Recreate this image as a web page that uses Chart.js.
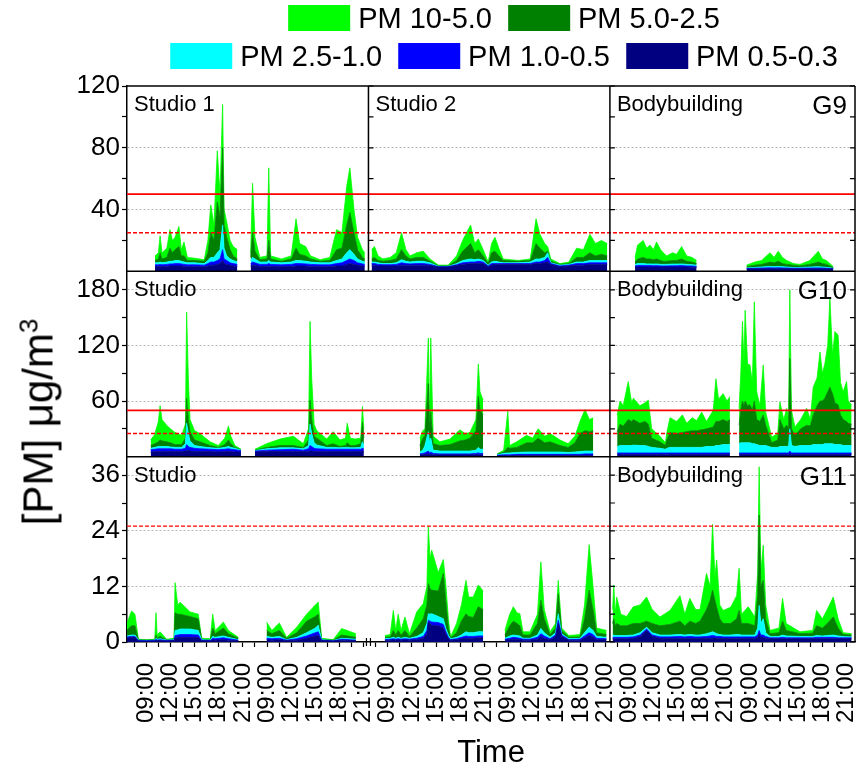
<!DOCTYPE html>
<html>
<head>
<meta charset="utf-8">
<title>PM size fractions, gyms G9-G11</title>
<script src="https://cdn.jsdelivr.net/npm/chart.js@4.4.1/dist/chart.umd.min.js"></script>
<style>
  html, body { margin: 0; padding: 0; background: #fff; }
  #wrap { position: relative; width: 859px; height: 772px; font-family: 'Liberation Sans', Arial, sans-serif; color: #000; }
  #pmChart { position: absolute; left: 0; top: 0; }
  .legend-row { position: absolute; left: 504px; transform: translateX(-50%); display: flex; gap: 16px; white-space: nowrap; }
  .legend-item { display: flex; align-items: center; gap: 8px; font-size: 29px; line-height: 26px; }
  .legend-item i { display: inline-block; width: 62px; height: 26px; }
  #yTitle { position: absolute; left: 38px; top: 422px; transform: translate(-50%, -50%) rotate(-90deg); font-size: 42px; white-space: nowrap; }
  #yTitle sup { font-size: 26px; }
</style>
</head>
<body>
<div id="wrap">
  <canvas id="pmChart" width="859" height="772"></canvas>
  <div class="legend-row" id="legendTop" style="top:5px"></div>
  <div class="legend-row" id="legendBottom" style="top:43px"></div>
  <div id="yTitle">[PM] μg/m<sup>3</sup></div>
</div>
<script>
const fontFamily = "'Liberation Sans', Arial, sans-serif";

const timeTicks = ['09:00', '12:00', '15:00', '18:00', '21:00'];
const sizeBands = ['PM 0.5-0.3', 'PM 1.0-0.5', 'PM 2.5-1.0', 'PM 5.0-2.5', 'PM 10-5.0'];
const bandColors = ['#000080', '#0000ff', '#00ffff', '#008000', '#00ff00'];
const pm10Limit = 50;
const pm25Limit = 25;

const row1Ticks = [40, 80, 120];
const row1Minor = [20, 60, 100];
const row2Ticks = [60, 120, 180];
const row2Minor = [30, 90, 150];
const row3Ticks = [0, 12, 24, 36];
const row3Minor = [6, 18, 30];

const panelLabels = [
  { row: 'y1', col: 0, text: 'Studio 1' },
  { row: 'y1', col: 1, text: 'Studio 2' },
  { row: 'y1', col: 2, text: 'Bodybuilding', gym: 'G9' },
  { row: 'y2', col: 0, text: 'Studio' },
  { row: 'y2', col: 2, text: 'Bodybuilding', gym: 'G10' },
  { row: 'y3', col: 0, text: 'Studio' },
  { row: 'y3', col: 2, text: 'Bodybuilding', gym: 'G11' },
];

// time: 3-hour steps from 09:00 of the first day in the column (4 = 21:00, 5 = 09:00 next day)
// values: cumulative concentration from 0.3 um up to 0.5 / 1.0 / 2.5 / 5.0 / 10 um; null = no data

// G9 - Studio 1
const g9Studio1Time = [0.36, 0.5, 0.57, 0.65, 0.85, 0.98, 1.08, 1.19, 1.35, 1.45, 1.56, 1.7, 2.0, 2.4, 2.55, 2.67, 2.8, 2.94, 3.05, 3.16, 3.22, 3.33, 3.47, 3.6, 3.77, 3.9, 4.32, 4.4, 4.5, 4.7, 5.0, 5.07, 5.15, 5.6, 6.0, 6.2, 6.35, 6.6, 6.8, 7.2, 7.6, 7.88, 8.1, 8.3, 8.43, 8.6, 8.75, 8.95, 9.05];
const g9Studio1Pm10 = [10, 12, 23, 12, 15, 27, 20, 22, 29, 14, 19, 9, 8.5, 7.5, 20, 43, 30, 78, 50, 108, 40, 32, 20, 16, 14, null, 12, 57, 22, 9, 10, 67, 10, 8, 10, 34, 18, 16, 10, 7.5, 9, 27, 25, 55, 67, 40, 22, 14, 12];
const g9Studio1Pm5 = [7, 8, 12, 8, 9, 15, 12, 14, 16, 10, 10, 7, 7, 6.5, 12, 25, 20, 45, 35, 80, 30, 22, 14, 10, 8, null, 9, 25, 13, 7.5, 8, 20, 8, 6.5, 8, 15, 11, 10, 8, 6.5, 7, 14, 15, 30, 38, 25, 14, 9, 8];
const g9Studio1Pm25 = [5.5, 5.5, 6, 5.5, 6, 6.5, 6.5, 7, 7, 6.5, 6, 5.5, 5.5, 5, 7, 9, 9, 12, 14, 30, 15, 10, 8, 7, 6, null, 7, 9, 8, 6, 6, 7, 6, 5.5, 6, 7, 7, 6.5, 6, 5.5, 5.5, 7, 8, 12, 14, 11, 8, 6.5, 6];
const g9Studio1Pm1 = [4.2, 4.2, 4.5, 4.2, 4.5, 4.8, 4.8, 5, 5, 4.8, 4.5, 4.2, 4.2, 4, 5, 6, 6, 7, 8, 14, 8, 7, 5.5, 5, 4.5, null, 5, 6, 5.5, 4.5, 4.5, 5, 4.5, 4.2, 4.5, 5, 5, 4.8, 4.5, 4.2, 4.2, 5, 5.5, 7, 8, 7, 5.5, 4.8, 4.5];
const g9Studio1Pm05 = [3, 3, 3.2, 3, 3.2, 3.5, 3.5, 3.5, 3.5, 3.5, 3.2, 3, 3, 3, 3.5, 4, 4, 4.5, 5, 7, 5, 4.5, 4, 3.5, 3.2, null, 3.5, 4, 4, 3.2, 3.2, 3.5, 3.2, 3, 3.2, 3.5, 3.5, 3.5, 3.2, 3, 3, 3.5, 3.5, 4.5, 5, 4.5, 4, 3.5, 3.2];

// G9 - Studio 2
const g9Studio2Time = [-0.67, -0.55, -0.4, -0.2, 0.1, 0.35, 0.57, 0.75, 0.92, 1.2, 1.47, 1.75, 2.1, 2.5, 2.85, 3.1, 3.43, 3.6, 3.75, 3.95, 4.16, 4.3, 4.44, 4.6, 4.78, 5.4, 5.9, 6.14, 6.3, 6.5, 6.62, 6.75, 7.13, 7.5, 7.82, 8.1, 8.37, 8.6, 8.85, 9.09];
const g9Studio2Pm10 = [14, 16, 10, 8, 9, 12, 25, 14, 10, 12, 13, 8, 4, 4, 10, 20, 30, 18, 21, 14, 6, 18, 22, 15, 8, 7, 8, 34, 24, 18, 16, 8, 5, 6, 15, 14, 24, 18, 20, 18];
const g9Studio2Pm5 = [8, 9, 7, 6.5, 7, 8, 14, 10, 8, 9, 9, 6.5, 3.5, 3.5, 7, 13, 18, 12, 14, 10, 5, 12, 13, 10, 7, 6.5, 7, 18, 15, 12, 13, 6.5, 4.5, 5, 9, 9, 12, 10, 11, 10];
const g9Studio2Pm25 = [6, 6, 5.5, 5, 5, 5.5, 7.5, 6.5, 6, 6.5, 6.5, 5.5, 3.2, 3.2, 5, 7, 8, 7.5, 8, 7, 4, 6, 6.5, 6, 5.5, 5.5, 6, 8, 8, 9, 12, 5.5, 4, 4.5, 6, 6, 7, 7, 7, 7];
const g9Studio2Pm1 = [5, 5, 4.5, 4.3, 4.3, 4.5, 5.5, 5, 4.8, 5, 5, 4.5, 3, 3, 4.3, 5.5, 6, 6, 6.5, 6, 3.5, 5, 5, 5, 5, 5, 5, 6, 6, 7, 9, 5, 3.5, 4, 5, 5, 5.5, 5.5, 5.5, 5.5];
const g9Studio2Pm05 = [4, 4, 3.5, 3.5, 3.5, 3.5, 4, 4, 4, 4, 4, 3.8, 2.8, 2.8, 3.8, 4.5, 5, 5, 5, 5, 3, 4, 4.5, 4.5, 4.5, 4.5, 4.5, 5, 5, 5.5, 6, 4.5, 3, 3.5, 4, 4, 4.5, 4.5, 4.5, 4.5];

// G9 - Bodybuilding
const g9BodyTime = [0.24, 0.35, 0.58, 0.72, 0.86, 1.0, 1.13, 1.3, 1.41, 1.55, 1.8, 1.96, 2.17, 2.38, 2.6, 2.79, 3.8, 4.86, 5.2, 5.48, 5.83, 6.0, 6.17, 6.35, 6.52, 6.8, 7.07, 7.48, 7.83, 8.0, 8.17, 8.45];
const g9BodyPm10 = [9, 17, 20, 15, 17, 14, 19, 14, 12, 10, 12, 11, 16, 10, 9, 7, null, 4, 6, 7, 12, 9, 13, 9, 7, 5, 4.5, 7, 13, 8, 7, 3];
const g9BodyPm5 = [6, 8, 9, 8, 8, 7.5, 8, 7, 6.5, 6.5, 7, 7, 8, 6.5, 6, 5, null, 3, 4, 4.5, 6, 5.5, 6.5, 5, 4.5, 4, 3.5, 4.5, 6, 5, 4.5, 2.5];
const g9BodyPm25 = [4.5, 5, 5, 4.8, 4.8, 4.7, 4.8, 4.5, 4.5, 4.5, 4.7, 4.7, 4.8, 4.5, 4.3, 4, null, 2.2, 2.5, 2.8, 3.2, 3, 3.2, 3, 2.8, 2.5, 2.5, 2.8, 3, 2.8, 2.6, 2];
const g9BodyPm1 = [3.5, 3.8, 3.8, 3.7, 3.7, 3.6, 3.7, 3.5, 3.5, 3.5, 3.6, 3.6, 3.7, 3.5, 3.4, 3.2, null, 1.8, 2, 2.1, 2.3, 2.2, 2.3, 2.2, 2.1, 2, 2, 2.1, 2.2, 2.1, 2, 1.7];
const g9BodyPm05 = [2.8, 2.8, 2.8, 2.8, 2.8, 2.8, 2.8, 2.8, 2.8, 2.8, 2.8, 2.8, 2.8, 2.8, 2.7, 2.6, null, 1.5, 1.6, 1.6, 1.7, 1.7, 1.7, 1.7, 1.6, 1.6, 1.6, 1.6, 1.7, 1.6, 1.6, 1.5];

// G10 - Studio (spans the first two columns)
const g10StudioTime = [0.18, 0.35, 0.5, 0.57, 0.65, 0.84, 1.0, 1.19, 1.46, 1.62, 1.67, 1.74, 1.81, 2.0, 2.22, 2.64, 2.98, 3.25, 3.4, 3.5, 3.67, 3.92, 4.2,
  4.5, 4.98, 5.54, 6.09, 6.5, 6.72, 6.78, 6.85, 6.95, 7.06, 7.47, 7.74, 8.02, 8.25, 8.32, 8.45, 8.64, 8.88, 8.95, 9.01, 10.0,
  11.33, 11.45, 11.54, 11.68, 11.73, 11.78, 11.88, 12.16, 12.58, 12.99, 13.2, 13.4, 13.65, 13.75, 13.82, 13.95, 14.2,
  14.53, 14.8, 14.97, 15.05, 15.34, 15.75, 16.0, 16.23, 16.5, 16.72, 17.13, 17.47, 17.75, 17.96, 18.17, 18.35, 18.51];
const g10StudioPm10 = [18, 24, 38, 55, 40, 34, 30, 26, 23, 35, 156, 84, 40, 28, 25, 16, 12, 20, 33, 22, 12, 8, null,
  8, 14, 19, 22, 14, 30, 146, 84, 35, 28, 19, 27, 18, 20, 36, 20, 19, 20, 54, 30, null,
  20, 28, 30, 128, 40, 128, 22, 16, 19, 29, 25, 26, 40, 100, 70, 61, null,
  3, 7, 49, 12, 16, 23, 20, 30, 22, 25, 18, 14, 22, 38, 51, 40, 42];
const g10StudioPm5 = [12, 14, 16, 18, 17, 16, 15, 13, 13, 20, 63, 40, 27, 18, 16, 12, 10, 13, 18, 14, 10, 7.5, null,
  7, 10, 12, 12, 10, 18, 61, 40, 22, 20, 12, 14, 11, 12, 15, 12, 12, 14, 37, 20, null,
  12, 20, 23, 79, 30, 48, 14, 12, 13, 17, 18, 20, 28, 65, 50, 45, null,
  2.5, 5, 10, 9, 10, 15, 15, 20, 15, 16, 12, 10, 15, 25, 28, 27, 28];
const g10StudioPm25 = [9, 10, 11, 11, 11, 11, 10.5, 10, 10, 14, 36, 25, 17, 12, 11, 9.5, 9, 10, 11, 10, 9, 7, null,
  6.5, 8.5, 9.5, 9.5, 8.5, 12, 35, 25, 15, 12.5, 10, 10, 9.5, 10, 10, 9.5, 9.5, 10, 16, 12, null,
  5, 7, 12, 27, 15, 20, 7, 6, 6, 6, 6, 6, 7, 10, 8, 8, null,
  2, 3.5, 4, 4, 4.5, 5, 5, 5, 5, 5, 5, 4.5, 5, 5.5, 6, 6, 6];
const g10StudioPm1 = [7.5, 8, 8.5, 8.5, 8.5, 8.5, 8.5, 8, 8, 9, 13, 11, 10, 9, 8.5, 8, 7.5, 8, 8.5, 8, 7.5, 6.5, null,
  6, 7, 7.5, 8, 7, 8.5, 12, 11, 9, 8.5, 8, 8, 8, 8, 8, 8, 8, 8, 9, 8.5, null,
  3, 3.5, 4, 6, 4, 5, 3.5, 3, 3, 3, 3, 3, 3.5, 4, 3.5, 3.5, null,
  1.5, 2, 2, 2, 2.5, 2.5, 2.5, 2.5, 2.5, 2.5, 2.5, 2.5, 2.5, 2.5, 3, 3, 3];
const g10StudioPm05 = [5, 5.5, 5.5, 5.5, 5.5, 5.5, 5.5, 5.5, 5.5, 6, 7, 6.5, 6, 5.5, 5.5, 5.5, 5, 5.5, 5.5, 5.5, 5, 5, null,
  5, 5.5, 5.5, 5.5, 5.5, 5.5, 6.5, 6, 5.5, 5.5, 5.5, 5.5, 5.5, 5.5, 5.5, 5.5, 5.5, 5.5, 6, 5.5, null,
  2, 2, 2.5, 3, 2.5, 2.5, 2, 2, 2, 2, 2, 2, 2, 2, 2, 2, null,
  1, 1, 1, 1, 1.5, 1.5, 1.5, 1.5, 1.5, 1.5, 1.5, 1.5, 1.5, 1.5, 1.5, 1.5, 1.5];

// G10 - Bodybuilding
const g10BodyTime = [-0.5, -0.38, -0.25, -0.04, 0.1, 0.17, 0.44, 0.65, 0.79, 0.93, 1.27, 1.5, 1.55, 1.69, 1.96, 2.2, 2.38, 2.6, 2.79, 3.0, 3.2, 3.48, 3.59, 3.7, 3.89, 4.05, 4.17, 4.35,
  4.55, 4.62, 4.69, 4.75, 4.8, 4.9, 5.0, 5.1, 5.18, 5.28, 5.41, 5.55, 5.65, 5.9, 6.15, 6.24, 6.4, 6.52, 6.6, 6.65, 6.72, 6.86, 7.1, 7.35, 7.5, 7.62, 7.78, 7.9, 8.0, 8.1, 8.22, 8.31, 8.42, 8.52, 8.65, 8.75, 8.86, 9.0, 9.07, 9.21];
const g10BodyPm10 = [45, 60, 55, 81, 58, 63, 55, 58, 61, 30, 22, 15, 25, 42, 38, 45, 36, 42, 39, 48, 38, 50, 84, 62, 68, 60, 65, null,
  52, 90, 146, 100, 158, 100, 99, 80, 167, 70, 55, 99, 48, 21, 25, 59, 40, 52, 40, 180, 50, 32, 40, 52, 40, 75, 85, 113, 90, 100, 120, 171, 110, 135, 131, 80, 70, 81, 60, 56];
const g10BodyPm5 = [27, 35, 33, 40, 38, 40, 36, 38, 35, 20, 16, 12, 18, 26, 25, 26, 27, 28, 28, 29, 30, 32, 38, 38, 40, 38, 40, null,
  34, 50, 60, 55, 60, 55, 56, 50, 60, 40, 38, 45, 34, 15, 18, 40, 30, 34, 30, 106, 30, 23, 30, 34, 33, 45, 55, 60, 60, 63, 70, 75, 68, 58, 56, 45, 40, 38, 36, 35];
const g10BodyPm25 = [11, 12, 12, 12, 12, 12.5, 12, 12, 11, 10, 9, 8, 9, 10, 10, 10, 10, 10, 10, 10, 11, 11, 12, 12, 13, 13, 13, null,
  14, 15, 15, 15, 15, 15, 15, 14, 14, 13, 12, 12, 12, 10, 10, 11, 11, 11, 11, 30, 12, 11, 12, 12, 12, 13, 13, 13, 13, 14, 14, 14, 14, 13, 13, 13, 12, 12, 12, 12];
const g10BodyPm1 = [4, 4, 4, 4, 4, 4, 4, 4, 4, 4, 4, 4, 4, 4, 4, 4, 4, 4, 4, 4, 4, 4, 4, 4, 4, 4, 4, null,
  4, 4, 4, 4, 4, 4, 4, 4, 4, 4, 4, 4, 4, 4, 4, 4, 4, 4, 4, 6, 4, 4, 4, 4, 4, 4, 4, 4, 4, 4, 4, 4, 4, 4, 4, 4, 4, 4, 4, 4];
const g10BodyPm05 = [2.5, 2.5, 2.5, 2.5, 2.5, 2.5, 2.5, 2.5, 2.5, 2.5, 2.5, 2.5, 2.5, 2.5, 2.5, 2.5, 2.5, 2.5, 2.5, 2.5, 2.5, 2.5, 2.5, 2.5, 2.5, 2.5, 2.5, null,
  2.5, 2.5, 2.5, 2.5, 2.5, 2.5, 2.5, 2.5, 2.5, 2.5, 2.5, 2.5, 2.5, 2.5, 2.5, 2.5, 2.5, 2.5, 2.5, 3, 2.5, 2.5, 2.5, 2.5, 2.5, 2.5, 2.5, 2.5, 2.5, 2.5, 2.5, 2.5, 2.5, 2.5, 2.5, 2.5, 2.5, 2.5, 2.5, 2.5];

// G11 - Studio (spans the first two columns)
const g11StudioTime = [-0.81, -0.61, -0.47, -0.33, 0.02, 0.35, 0.4, 0.45, 0.57, 0.84, 1.15, 1.19, 1.3, 1.4, 1.81, 2.15, 2.29, 2.65, 2.75, 2.85, 3.05, 3.19, 3.4, 3.81, 4.4,
  4.98, 5.2, 5.51, 5.81, 6.23, 6.64, 7.0, 7.12, 7.26, 7.74, 8.09, 8.68, 9.3,
  9.88, 10.1, 10.23, 10.33, 10.43, 10.55, 10.71, 10.9, 11.2, 11.47, 11.62, 11.68, 11.75, 11.82, 12.09, 12.3, 12.4, 12.51, 12.6, 12.85, 13.05, 13.24, 13.35, 13.54, 13.75, 13.95, 14.4,
  14.85, 15.05, 15.2, 15.35, 15.47, 15.6, 15.89, 16.2, 16.34, 16.48, 16.72, 16.95, 17.06, 17.2, 17.5, 17.96, 18.15, 18.34, 18.5, 18.65, 19.06];
const g11StudioPm10 = [4, 6.7, 6, 0.6, 0.5, 0.6, 6.3, 1.5, 2.2, 0.6, 0.8, 12.8, 8, 8.6, 6.5, 6, 0.8, 0.7, 6, 2.5, 3.5, 4.3, 2.5, 1, null,
  4.3, 2.5, 4.1, 1, 3.2, 6, 8, 8.6, 0.8, 0.5, 2.9, 1.8, null,
  1.4, 1.6, 6.8, 2.5, 6, 2.5, 5.4, 1.8, 6.5, 8.3, 12, 24.9, 18, 19.8, 15, 17.8, 12.6, 5, 1.1, 4, 8, 13.3, 9.7, 9.7, 12.3, 11, null,
  2.5, 6, 7.6, 6.3, 6.1, 2.2, 2.2, 6, 17.3, 7, 2.2, 4, 13.3, 3, 1.4, 1.6, 8, 21, 12, 3, 2.5];
const g11StudioPm5 = [2.5, 3.5, 3.5, 0.5, 0.4, 0.5, 1.5, 0.8, 1.2, 0.5, 0.6, 6.3, 6, 6, 5.5, 5, 0.6, 0.5, 3, 1.8, 2.5, 3, 1.8, 0.8, null,
  2.5, 1.8, 2.5, 0.8, 2, 4.5, 5.5, 6, 0.6, 0.4, 1.5, 1, null,
  1, 1.1, 2.5, 1.5, 2.5, 1.5, 2.5, 1.2, 3, 5, 8, 12.6, 11.5, 11.2, 11, 14.8, 9, 3, 0.9, 2, 4.5, 6.1, 5.5, 5.3, 7.6, 7, null,
  1.5, 3.5, 4.5, 4, 3.5, 1.5, 1.5, 4, 9, 5, 1.6, 3, 10.4, 2.5, 1, 1.1, 5, 11.2, 7, 2, 1.6];
const g11StudioPm25 = [1.3, 1.5, 1.5, 0.4, 0.3, 0.4, 0.8, 0.6, 0.7, 0.4, 0.5, 2.5, 2.6, 2.8, 2.8, 2.5, 0.5, 0.4, 1.2, 1, 1.2, 1.3, 1, 0.5, null,
  1.2, 1, 1.2, 0.5, 1, 2, 3, 3.6, 0.5, 0.3, 0.8, 0.6, null,
  0.7, 0.8, 1, 0.8, 1, 0.8, 1, 0.8, 1.2, 2, 4, 6.1, 6, 6.1, 5.5, 5, 3, 1.5, 0.7, 1, 1.5, 2.2, 2, 2, 2.2, 2.2, null,
  0.8, 1.3, 1.5, 1.4, 1.3, 0.8, 0.8, 1.5, 2.9, 2, 1, 2, 6.1, 1.8, 0.7, 0.8, 2, 3.2, 2.5, 1.2, 1];
const g11StudioPm1 = [1.1, 1.2, 1.2, 0.3, 0.25, 0.3, 0.6, 0.4, 0.5, 0.3, 0.4, 1.4, 1.5, 1.6, 1.6, 1.5, 0.4, 0.3, 0.8, 0.7, 0.8, 0.9, 0.7, 0.4, null,
  0.8, 0.7, 0.8, 0.4, 0.7, 1.3, 2, 2.2, 0.4, 0.25, 0.6, 0.4, null,
  0.5, 0.6, 0.7, 0.6, 0.7, 0.6, 0.7, 0.6, 0.8, 1.2, 2.5, 4.7, 4.5, 4.3, 4.2, 3.8, 2.3, 1, 0.5, 0.7, 1, 1.3, 1.2, 1.2, 1.3, 1.3, null,
  0.6, 0.8, 1, 0.9, 0.8, 0.6, 0.6, 1, 1.8, 1.3, 0.7, 1.5, 4.7, 1.5, 0.5, 0.6, 1.3, 2, 1.6, 0.8, 0.7];
const g11StudioPm05 = [0.9, 1, 1, 0.2, 0.2, 0.2, 0.4, 0.3, 0.3, 0.2, 0.3, 0.9, 1, 1, 1, 1, 0.3, 0.2, 0.5, 0.4, 0.5, 0.5, 0.4, 0.3, null,
  0.5, 0.4, 0.5, 0.3, 0.4, 0.8, 1.3, 1.4, 0.3, 0.2, 0.4, 0.3, null,
  0.4, 0.4, 0.5, 0.4, 0.5, 0.4, 0.5, 0.4, 0.5, 0.8, 1.8, 4.3, 4, 3.6, 3.5, 3, 1.8, 0.8, 0.4, 0.5, 0.7, 0.8, 0.8, 0.8, 0.9, 0.9, null,
  0.4, 0.5, 0.6, 0.6, 0.5, 0.4, 0.4, 0.6, 1.2, 0.8, 0.5, 1.2, 4, 1.2, 0.4, 0.4, 0.9, 1.4, 1.1, 0.5, 0.5];

// G11 - Bodybuilding
const g11BodyTime = [-0.69, -0.64, -0.58, -0.52, -0.35, -0.11, 0.17, 0.45, 0.72, 0.95, 1.27, 1.69, 2.1, 2.3, 2.51, 2.75, 2.93, 3.2, 3.35, 3.45, 3.55, 3.62, 3.75, 3.89, 4.2, 4.45, 4.55, 4.65, 4.93, 5.2, 5.32, 5.38, 5.45, 5.55, 5.65, 5.83, 6.2, 6.35, 6.5, 7.07, 7.6, 7.76, 8.0, 8.2, 8.45, 8.65, 8.86, 9.21];
const g11BodyPm10 = [7, 12.3, 6, 9.7, 6, 5.5, 7.6, 8, 9.7, 7, 5.4, 6.8, 10, 6, 9.4, 7, 7, 14.8, 12, 25.4, 14, 17.7, 8, 6.8, 7.5, 10, 15.9, 6, 7.6, 5.4, 15, 37.8, 15, 20.9, 8, 2.5, 3, 9.4, 4, 2.2, 2.5, 6.8, 5, 7, 9.7, 5, 2, 1.8];
const g11BodyPm5 = [4, 5, 3.5, 4, 3.5, 3.5, 4, 4, 4.5, 4, 3.5, 3.8, 4.5, 3.5, 4.5, 4, 4.5, 7, 9, 11.2, 9, 7.5, 5, 4, 4, 5, 6.8, 4, 4, 3.5, 10, 27.4, 12, 13.3, 5, 1.8, 2, 4.5, 2.5, 1.8, 1.9, 3.5, 3, 4, 5.4, 3, 1.6, 1.5];
const g11BodyPm25 = [1.5, 1.5, 1.4, 1.4, 1.4, 1.4, 1.5, 2, 3.2, 2, 1.5, 1.5, 1.6, 1.5, 1.6, 1.5, 1.5, 1.8, 2, 2.2, 2, 1.8, 1.6, 1.5, 1.5, 1.6, 1.6, 1.5, 1.5, 1.5, 3, 7.9, 4, 5, 2, 1.2, 1.2, 1.5, 1.3, 1.2, 1.2, 1.4, 1.3, 1.4, 1.5, 1.3, 1.2, 1.1];
const g11BodyPm1 = [1, 1, 1, 1, 1, 1, 1.1, 1.5, 2.8, 1.5, 1.1, 1.1, 1.2, 1.1, 1.2, 1.1, 1.1, 1.2, 1.3, 1.4, 1.3, 1.2, 1.2, 1.1, 1.1, 1.1, 1.1, 1.1, 1.1, 1.1, 1.5, 2.5, 1.5, 1.5, 1.2, 0.9, 0.9, 1, 0.9, 0.9, 0.9, 1, 1, 1, 1, 0.9, 0.9, 0.9];
const g11BodyPm05 = [0.7, 0.7, 0.7, 0.7, 0.7, 0.7, 0.8, 1.2, 2.5, 1.2, 0.8, 0.8, 0.8, 0.8, 0.8, 0.8, 0.8, 0.8, 0.8, 0.8, 0.9, 0.8, 0.8, 0.8, 0.8, 0.8, 0.8, 0.8, 0.8, 0.8, 1, 1.8, 1, 1, 0.8, 0.7, 0.7, 0.7, 0.7, 0.7, 0.7, 0.7, 0.7, 0.7, 0.7, 0.7, 0.7, 0.7];

// layout: each column is 10 units (3 h per unit), 09:00 of the first day sits 0.8 units in
const tickOffset = 0.8;
const xMax = 30.15;

const panels = [
  { row: 'y1', col: 0, time: g9Studio1Time, levels: [g9Studio1Pm05, g9Studio1Pm1, g9Studio1Pm25, g9Studio1Pm5, g9Studio1Pm10] },
  { row: 'y1', col: 1, time: g9Studio2Time, levels: [g9Studio2Pm05, g9Studio2Pm1, g9Studio2Pm25, g9Studio2Pm5, g9Studio2Pm10] },
  { row: 'y1', col: 2, time: g9BodyTime, levels: [g9BodyPm05, g9BodyPm1, g9BodyPm25, g9BodyPm5, g9BodyPm10] },
  { row: 'y2', col: 0, time: g10StudioTime, levels: [g10StudioPm05, g10StudioPm1, g10StudioPm25, g10StudioPm5, g10StudioPm10] },
  { row: 'y2', col: 2, time: g10BodyTime, levels: [g10BodyPm05, g10BodyPm1, g10BodyPm25, g10BodyPm5, g10BodyPm10] },
  { row: 'y3', col: 0, time: g11StudioTime, levels: [g11StudioPm05, g11StudioPm1, g11StudioPm25, g11StudioPm5, g11StudioPm10] },
  { row: 'y3', col: 2, time: g11BodyTime, levels: [g11BodyPm05, g11BodyPm1, g11BodyPm25, g11BodyPm5, g11BodyPm10] },
];

const datasets = [];
panels.forEach((p) => {
  p.levels.forEach((vals, k) => {
    datasets.push({
      label: sizeBands[k],
      yAxisID: p.row,
      data: p.time.map((t, i) => ({ x: p.col * 10 + tickOffset + t, y: vals[i] })),
      backgroundColor: bandColors[k],
      borderColor: bandColors[k],
      borderWidth: 0.8,
      pointRadius: 0,
      tension: 0,
      fill: k === 0 ? 'origin' : '-1',
    });
  });
});

function limitLine(row, value, dashed) {
  return {
    label: 'limit',
    yAxisID: row,
    data: [{ x: 0, y: value }, { x: xMax, y: value }],
    borderColor: '#ff0000',
    backgroundColor: '#ff0000',
    borderWidth: dashed ? 1.4 : 1.6,
    borderDash: dashed ? [4, 2] : [],
    pointRadius: 0,
    fill: false,
    order: -1,
  };
}
datasets.push(
  limitLine('y1', pm10Limit, false), limitLine('y1', pm25Limit, true),
  limitLine('y2', pm10Limit, false), limitLine('y2', pm25Limit, true),
  limitLine('y3', pm25Limit, true)
);

function rowAxis(max, majors, minors) {
  return {
    type: 'linear',
    position: 'left',
    stack: 'rows',
    stackWeight: 1,
    min: 0,
    max: max,
    afterBuildTicks: (s) => {
      s.ticks = [...majors, ...minors].sort((a, b) => a - b).map((v) => ({ value: v }));
    },
    afterFit: (s) => { s.width = 50; },
    ticks: {
      autoSkip: false,
      color: '#000',
      padding: 2,
      font: { size: 26, family: fontFamily },
      callback: (v) => (majors.includes(v) ? String(v) : ''),
    },
    grid: {
      color: (c) => (c.tick && majors.includes(c.tick.value) && c.tick.value !== max && c.tick.value !== 0 ? '#b4b4b4' : 'rgba(0,0,0,0)'),
      lineWidth: 1,
      tickLength: 5,
      tickColor: '#000',
      tickWidth: 1.2,
    },
    border: { display: true, color: '#000', width: 1.5, dash: [2, 2] },
  };
}

const frameAndLabels = {
  id: 'frameAndLabels',
  afterDatasetsDraw(chart) {
    const { ctx, chartArea: a, scales } = chart;
    const px = (v) => scales.x.getPixelForValue(v);
    const rows = [scales.y1, scales.y2, scales.y3];
    ctx.save();
    ctx.strokeStyle = '#000';
    ctx.lineWidth = 1.5;
    ctx.beginPath();
    ctx.moveTo(a.left, a.top); ctx.lineTo(a.right, a.top);
    ctx.moveTo(a.left, scales.y1.bottom); ctx.lineTo(a.right, scales.y1.bottom);
    ctx.moveTo(a.left, scales.y2.bottom); ctx.lineTo(a.right, scales.y2.bottom);
    ctx.moveTo(a.right, a.top); ctx.lineTo(a.right, a.bottom);
    ctx.moveTo(px(20), a.top); ctx.lineTo(px(20), a.bottom);
    ctx.moveTo(px(10), a.top); ctx.lineTo(px(10), scales.y1.bottom);
    ctx.stroke();

    ctx.lineWidth = 1.2;
    ctx.beginPath();
    rows.forEach((s) => s.ticks.forEach((t) => {
      const y = s.getPixelForValue(t.value);
      ctx.moveTo(a.right, y); ctx.lineTo(a.right - 5, y);
      ctx.moveTo(px(20), y); ctx.lineTo(px(20) + 5, y);
      if (s === scales.y1) { ctx.moveTo(px(10), y); ctx.lineTo(px(10) + 5, y); }
    }));
    // axis break marks under the merged studio panels
    [scales.y3.bottom].forEach((y) => {
      ctx.moveTo(px(10) - 2, y - 4); ctx.lineTo(px(10) - 2, y + 4);
      ctx.moveTo(px(10) + 2, y - 4); ctx.lineTo(px(10) + 2, y + 4);
    });
    ctx.stroke();

    ctx.fillStyle = '#000';
    ctx.textBaseline = 'alphabetic';
    panelLabels.forEach((l) => {
      const top = scales[l.row].top;
      ctx.font = `22px ${fontFamily}`;
      ctx.textAlign = 'left';
      ctx.fillText(l.text, px(l.col * 10) + 7, top + 25);
      if (l.gym) {
        ctx.font = `26px ${fontFamily}`;
        ctx.textAlign = 'right';
        ctx.fillText(l.gym, a.right - 8, top + 28);
      }
    });
    ctx.restore();
  },
};

new Chart(document.getElementById('pmChart').getContext('2d'), {
  type: 'line',
  data: { datasets },
  plugins: [frameAndLabels],
  options: {
    responsive: false,
    animation: false,
    events: [],
    layout: { padding: { top: 86, left: 77, right: 4, bottom: 0 } },
    plugins: {
      legend: { display: false },
      tooltip: { enabled: false },
    },
    scales: {
      x: {
        type: 'linear',
        min: 0,
        max: xMax,
        afterBuildTicks: (s) => {
          const ticks = [];
          for (let i = 0; i < 60; i++) {
            ticks.push({ value: Math.round((tickOffset - 0.5 + i * 0.5) * 100) / 100 });
          }
          s.ticks = ticks;
        },
        afterFit: (s) => { s.height = 130; s.paddingLeft = 0; s.paddingRight = 0; },
        ticks: {
          autoSkip: false,
          minRotation: 90,
          maxRotation: 90,
          padding: 16,
          color: '#000',
          font: { size: 24, family: fontFamily },
          callback: (v) => {
            const k = Math.round(v - tickOffset);
            if (Math.abs(v - tickOffset - k) > 0.01) return '';
            return timeTicks[k % 5];
          },
        },
        grid: { drawOnChartArea: false, tickLength: 5, tickColor: '#000', tickWidth: 1.2 },
        border: { color: '#000', width: 1.5 },
        title: { display: true, text: 'Time', color: '#000', font: { size: 31, family: fontFamily }, padding: { top: 0, bottom: 0 } },
      },
      y3: rowAxis(40, row3Ticks, row3Minor),
      y2: rowAxis(200, row2Ticks, row2Minor),
      y1: rowAxis(120, row1Ticks, row1Minor),
    },
  },
});

const legendRows = [[4, 3], [2, 1, 0]];
['legendTop', 'legendBottom'].forEach((id, r) => {
  const el = document.getElementById(id);
  legendRows[r].forEach((k) => {
    const item = document.createElement('span');
    item.className = 'legend-item';
    item.innerHTML = `<i style="background:${bandColors[k]}"></i>${sizeBands[k]}`;
    el.appendChild(item);
  });
});
</script>
</body>
</html>
